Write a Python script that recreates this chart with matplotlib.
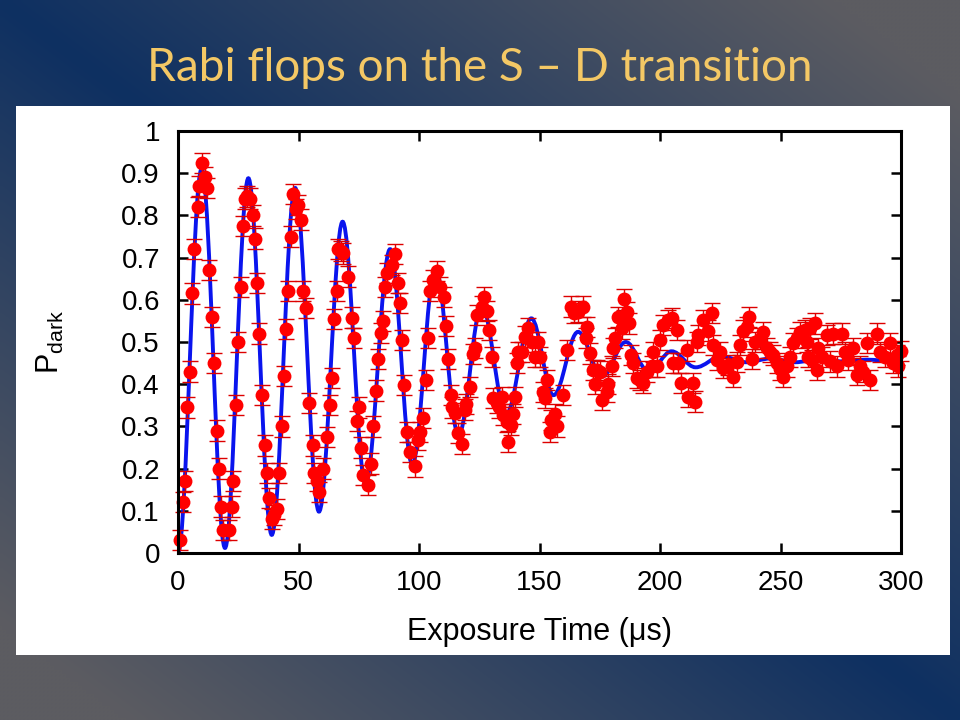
import numpy as np
import matplotlib
matplotlib.use("Agg")
import matplotlib.pyplot as plt
from matplotlib.path import Path
from matplotlib.patches import PathPatch, Rectangle

# ---------------- data ----------------
time_us = [0.8, 2.2, 2.9, 3.9, 5.0, 5.9, 6.8, 8.2, 8.8, 9.8, 11.2, 12.2, 12.9, 14.0, 14.9,
           16.0, 17.0, 17.8, 18.5, 21.3, 22.3, 23.0, 23.9, 25.0, 26.0, 27.1, 27.8, 28.7, 29.9,
           31.0, 32.0, 32.9, 33.7, 34.7, 36.1, 36.8, 37.9, 38.9, 39.8, 41.0, 42.0, 43.0, 44.0,
           44.8, 45.8, 46.8, 47.8, 48.8, 49.9, 51.0, 52.0, 53.0, 54.5, 55.9, 56.4, 57.5, 58.6,
           60.3, 62.0, 63.1, 64.0, 64.9, 65.8, 66.5, 67.5, 68.6, 70.5, 72.1, 73.0, 74.1, 75.1,
           75.9, 76.9, 79.0, 80.0, 81.0, 82.0, 83.1, 84.1, 84.9, 85.9, 86.6, 88.7, 90.0, 91.2,
           92.1, 92.8, 93.9, 94.9, 96.3, 98.3, 99.5, 100.4, 101.8, 102.9, 103.9, 104.6, 105.7,
           107.6, 108.7, 110.4, 111.2, 112.2, 113.2, 113.8, 114.9, 116.3, 117.7, 119.0, 119.5,
           121.2, 122.3, 123.2, 123.9, 126.0, 127.0, 128.1, 129.2, 130.2, 130.8, 132.2, 133.1,
           134.3, 135.0, 136.4, 137.1, 138.0, 139.1, 139.8, 140.5, 141.2, 142.6, 144.0, 145.4,
           146.8, 148.1, 149.5, 150.2, 151.3, 152.2, 153.0, 154.4, 154.8, 156.4, 157.2, 159.6,
           161.3, 162.9, 164.3, 166.1, 168.2, 169.3, 169.8, 171.0, 172.3, 173.0, 173.7, 175.1,
           175.8, 177.9, 178.6, 180.0, 180.6, 181.3, 182.7, 184.1, 185.1, 186.2, 187.3, 188.0,
           188.9, 190.3, 191.7, 193.1, 194.5, 196.5, 197.2, 198.6, 200.0, 201.4, 203.5, 204.9,
           205.5, 206.9, 207.6, 208.9, 211.1, 211.8, 213.5, 214.5, 215.2, 215.9, 218.0, 220.0,
           221.5, 222.1, 223.5, 224.9, 226.3, 228.4, 230.4, 231.8, 233.2, 234.6, 236.0, 237.1,
           238.1, 239.4, 241.5, 242.9, 244.3, 245.6, 247.0, 248.4, 249.8, 251.2, 252.6, 253.9,
           255.3, 256.7, 258.1, 260.2, 260.9, 261.6, 262.2, 263.0, 264.3, 265.0, 265.7, 267.1,
           269.2, 270.5, 271.9, 273.3, 275.4, 276.8, 278.1, 280.2, 281.6, 283.0, 284.4, 285.8,
           287.1, 289.9, 291.3, 293.4, 295.4, 296.8, 298.2, 298.9, 300.0]
p_dark = [0.03, 0.12, 0.17, 0.345, 0.43, 0.615, 0.72, 0.82, 0.87, 0.925, 0.89, 0.865, 0.67, 0.56, 0.45,
          0.29, 0.20, 0.11, 0.055, 0.055, 0.11, 0.17, 0.35, 0.50, 0.63, 0.775, 0.84, 0.845, 0.84,
          0.80, 0.745, 0.64, 0.52, 0.375, 0.255, 0.19, 0.13, 0.08, 0.09, 0.105, 0.19, 0.30, 0.42,
          0.53, 0.62, 0.75, 0.85, 0.815, 0.825, 0.79, 0.62, 0.58, 0.355, 0.255, 0.19, 0.17, 0.145,
          0.20, 0.275, 0.35, 0.415, 0.555, 0.62, 0.72, 0.715, 0.71, 0.655, 0.558, 0.509, 0.313, 0.345,
          0.25, 0.185, 0.161, 0.212, 0.30, 0.385, 0.46, 0.522, 0.55, 0.63, 0.663, 0.682, 0.708, 0.64,
          0.592, 0.505, 0.398, 0.287, 0.24, 0.205, 0.267, 0.287, 0.32, 0.41, 0.51, 0.62, 0.647,
          0.669, 0.63, 0.607, 0.538, 0.46, 0.374, 0.345, 0.331, 0.284, 0.258, 0.34, 0.353,
          0.394, 0.472, 0.485, 0.564, 0.584, 0.607, 0.573, 0.529, 0.465, 0.367, 0.355, 0.345,
          0.37, 0.328, 0.311, 0.264, 0.303, 0.33, 0.37, 0.45, 0.477, 0.477, 0.513, 0.532,
          0.50, 0.465, 0.50, 0.465, 0.382, 0.367, 0.41, 0.287, 0.315, 0.33, 0.30, 0.374,
          0.481, 0.584, 0.568, 0.572, 0.584, 0.509, 0.535, 0.473, 0.434, 0.40, 0.434, 0.43,
          0.363, 0.382, 0.40, 0.443, 0.485, 0.509, 0.56, 0.532, 0.601, 0.57, 0.544, 0.469,
          0.45, 0.414, 0.41, 0.402, 0.43, 0.442, 0.477, 0.442, 0.505, 0.54, 0.552, 0.556,
          0.45, 0.528, 0.45, 0.402, 0.48, 0.37, 0.402, 0.359, 0.50, 0.516, 0.552, 0.527,
          0.568, 0.493, 0.458, 0.477, 0.438, 0.445, 0.418, 0.453, 0.493, 0.527, 0.535, 0.56,
          0.46, 0.50, 0.508, 0.524, 0.485, 0.477, 0.47, 0.45, 0.435, 0.418, 0.442, 0.465,
          0.497, 0.509, 0.524, 0.528, 0.50, 0.465, 0.532, 0.458, 0.544, 0.434, 0.485, 0.465,
          0.516, 0.454, 0.52, 0.442, 0.52, 0.477, 0.458, 0.485, 0.422, 0.442, 0.43, 0.497,
          0.41, 0.52, 0.477, 0.465, 0.497, 0.45, 0.47, 0.442, 0.478]
p_err = 0.024

# extrema of the fitted curve (peaks and troughs)
fit_t = [0, 9.8, 19.5, 29.2, 38.9, 48.6, 58.5, 68.3, 77.8, 88.0, 97.2, 106.8, 116.4, 126.0,
         136.2, 146.6, 155.8, 166.0, 176.0, 185.8, 195.3, 204.8, 214.8, 225.5, 236.0, 246.0,
         256.0, 266.0, 276.0, 286.0, 296.0, 300.0]
fit_p = [0.0, 0.91, 0.012, 0.888, 0.043, 0.865, 0.098, 0.785, 0.165, 0.72, 0.21, 0.675, 0.28,
         0.585, 0.33, 0.556, 0.374, 0.524, 0.418, 0.50, 0.43, 0.478, 0.44, 0.466, 0.452, 0.461,
         0.452, 0.459, 0.454, 0.458, 0.455, 0.456]

x_ticks = [0, 50, 100, 150, 200, 250, 300]
y_ticks = [0, 0.1, 0.2, 0.3, 0.4, 0.5, 0.6, 0.7, 0.8, 0.9, 1.0]
y_tick_labels = ["0", "0.1", "0.2", "0.3", "0.4", "0.5", "0.6", "0.7", "0.8", "0.9", "1"]

title_text = "Rabi flops on the S \u2013 D transition"
x_label = "Exposure Time (\u03bcs)"
y_label = r"P$_{\mathregular{dark}}$"

# ---------------- figure ----------------
plt.rcParams["font.family"] = ["Liberation Sans", "DejaVu Sans"]
plt.rcParams["mathtext.default"] = "regular"

W, H = 960, 720
fig = plt.figure(figsize=(W / 100, H / 100), dpi=100)

# background gradient
bg = fig.add_axes([0, 0, 1, 1], zorder=-10)
u = np.linspace(0, 1, 240)
v = np.linspace(0, 1, 180)
U, V = np.meshgrid(u, v)
c = np.clip(np.abs(U - V) * 1.15, 0, 1)[..., None]
navy = np.array([14, 48, 98]) / 255.0
gray = np.array([92, 92, 97]) / 255.0
img = navy * (1 - c) + gray * c
bg.imshow(img, extent=[0, 1, 0, 1], aspect="auto", origin="upper", interpolation="bilinear")
bg.set_xlim(0, 1)
bg.set_ylim(0, 1)
bg.axis("off")
bg.add_patch(Rectangle((16 / W, 1 - 655 / H), 934 / W, 549 / H, transform=bg.transAxes,
                       facecolor="white", edgecolor="none"))

fig.text(0.5, 1 - 68 / H, title_text, ha="center", va="center", color="#f4c865",
         fontsize=33, family=["Lato", "DejaVu Sans"], fontweight="normal")

ax = fig.add_axes([178 / W, 1 - 553 / H, 723 / W, 422 / H])
ax.set_facecolor("white")

# fitted curve as smooth path through extrema
k = 0.3642
verts = [(fit_t[0], fit_p[0])]
codes = [Path.MOVETO]
for i in range(len(fit_t) - 1):
    t0, y0, t1, y1 = fit_t[i], fit_p[i], fit_t[i + 1], fit_p[i + 1]
    dt = t1 - t0
    verts += [(t0 + k * dt, y0), (t1 - k * dt, y1), (t1, y1)]
    codes += [Path.CURVE4] * 3
ax.add_patch(PathPatch(Path(verts, codes), facecolor="none", edgecolor="#0a14ee",
                       lw=2.8, zorder=2))

ax.errorbar(time_us, p_dark, yerr=p_err, fmt="none", ecolor="#dd0000", elinewidth=1.0,
            capsize=5.5, capthick=1.0, zorder=3, clip_on=False)
ax.plot(time_us, p_dark, "o", color="#ff0000", ms=10, mec="none", zorder=4, clip_on=False)

ax.set_xlim(0, 300)
ax.set_ylim(0, 1)
ax.set_xticks(x_ticks)
ax.set_yticks(y_ticks)
ax.set_yticklabels(y_tick_labels)
for s in ax.spines.values():
    s.set_linewidth(2.2)
    s.set_color("black")
    s.set_zorder(5)
ax.tick_params(direction="in", length=7, width=1.8, top=True, right=True, labelsize=20,
               colors="black")
ax.tick_params(axis="x", pad=12)
ax.tick_params(axis="y", pad=13)

ax.set_xlabel(x_label, fontsize=22)
ax.xaxis.set_label_coords(0.5, (553 - 617) / 422)
ax.set_ylabel(y_label, fontsize=22)
ax.yaxis.set_label_coords((66 - 178) / 723, 0.5)

fig.savefig("out.png", dpi=100)
